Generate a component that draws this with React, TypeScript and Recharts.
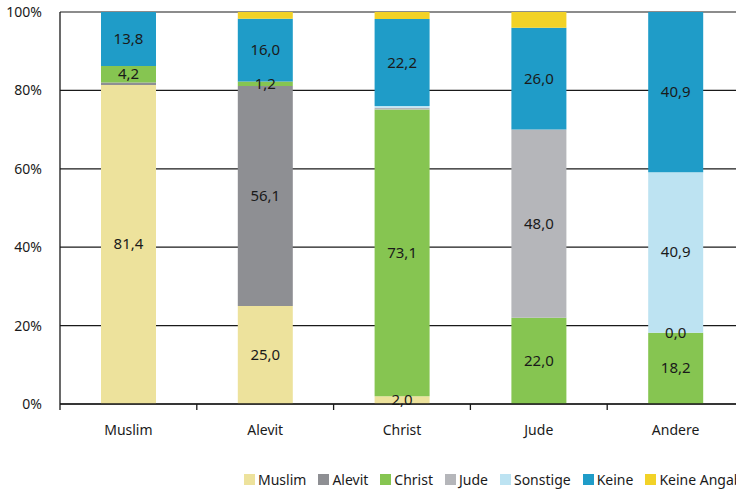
import React from "react";
import {
  Bar,
  BarChart,
  CartesianGrid,
  LabelList,
  Legend,
  XAxis,
  YAxis,
} from "recharts";

const categories = ["Muslim", "Alevit", "Christ", "Jude", "Andere"];

const muslim = [81.4, 25.0, 2.0, null, null];
const alevit = [0.6, 56.1, null, null, null];
const christ = [4.2, 1.2, 73.1, 22.0, 18.2];
const jude = [null, null, 0.5, 48.0, 0.0];
const sonstige = [null, null, 0.4, null, 40.9];
const keine = [13.8, 16.0, 22.2, 26.0, 40.9];
const keineAngabe = [null, 1.7, 1.8, 4.0, null];

const yTicks = [0, 20, 40, 60, 80, 100];

const series = [
  { key: "Muslim", values: muslim, color: "#ede29c", labels: true },
  { key: "Alevit", values: alevit, color: "#8e8f93", labels: true },
  { key: "Christ", values: christ, color: "#86c551", labels: true },
  { key: "Jude", values: jude, color: "#b5b6ba", labels: true },
  { key: "Sonstige", values: sonstige, color: "#bde3f2", labels: true },
  { key: "Keine", values: keine, color: "#1f9cc8", labels: true },
  { key: "Keine Angabe", values: keineAngabe, color: "#f2d227", labels: false },
];

const data = categories.map((name, i) => {
  const row: Record<string, any> = { name };
  series.forEach((s) => {
    row[s.key] = s.values[i];
  });
  return row;
});

const FONT = "'Noto Sans', sans-serif";
const INK = "#1a1a1a";
const W = 760;
const H = 494;
const MARGIN = { top: 12, right: 16, bottom: 0, left: 0 };
const Y_WIDTH = 60;
const halfBand = (W - MARGIN.left - MARGIN.right - Y_WIDTH) / categories.length / 2;

const fmt = (v: number) => v.toFixed(1).replace(".", ",");

function CategoryTick(props: any) {
  const { x, y, payload } = props;
  return (
    <g>
      <line x1={x - halfBand} x2={x - halfBand} y1={y} y2={y + 6} stroke={INK} strokeWidth={1.3} />
      <text x={x} y={y + 31} textAnchor="middle" fill={INK} fontSize={14} fontFamily={FONT}>
        {payload.value}
      </text>
    </g>
  );
}

function SegmentLabel(props: any) {
  const { x, y, width, height, value } = props;
  if (value === null || value === undefined) return null;
  if (value > 0 && value < 1) return null;
  return (
    <text
      x={x + width / 2}
      y={y + height / 2}
      dy={5}
      textAnchor="middle"
      fill={INK}
      fontSize={15}
      fontFamily={FONT}
    >
      {fmt(value)}
    </text>
  );
}

function LegendRow() {
  return (
    <div style={{ display: "flex", paddingLeft: 244, fontFamily: FONT, fontSize: 14, color: INK, whiteSpace: "nowrap" }}>
      {series.map((s) => (
        <div key={s.key} style={{ display: "flex", alignItems: "center", marginRight: 12 }}>
          <span style={{ width: 11, height: 11, background: s.color, marginRight: 3, display: "inline-block" }} />
          <span>{s.key}</span>
        </div>
      ))}
    </div>
  );
}

export default function App() {
  return (
    <div style={{ position: "absolute", left: 0, top: 0, width: 736, height: 494, overflow: "hidden", background: "#fff" }}>
      <BarChart width={W} height={H} data={data} margin={MARGIN} barSize={55}>
        <CartesianGrid vertical={false} stroke={INK} strokeWidth={1.2} />
        <XAxis
          dataKey="name"
          tickLine={false}
          tickSize={0}
          tickMargin={0}
          height={66}
          axisLine={{ stroke: INK, strokeWidth: 1.3 }}
          tick={<CategoryTick />}
          interval={0}
        />
        <YAxis
          domain={[0, 100]}
          ticks={yTicks}
          width={Y_WIDTH}
          tickLine={false}
          tickMargin={12}
          axisLine={{ stroke: INK, strokeWidth: 1.3 }}
          tickFormatter={(v: number) => `${v}%`}
          tick={{ fill: INK, fontSize: 14, fontFamily: FONT }}
        />
        <Legend
          verticalAlign="bottom"
          height={24}
          wrapperStyle={{ left: 0, width: W }}
          content={() => <LegendRow />}
        />
        {series.map((s) => (
          <Bar
            key={s.key}
            dataKey={s.key}
            stackId="a"
            fill={s.color}
            minPointSize={s.key === "Jude" ? 0.01 : 0}
            isAnimationActive={false}
          >
            {s.labels && <LabelList dataKey={s.key} content={<SegmentLabel />} />}
          </Bar>
        ))}
      </BarChart>
    </div>
  );
}
